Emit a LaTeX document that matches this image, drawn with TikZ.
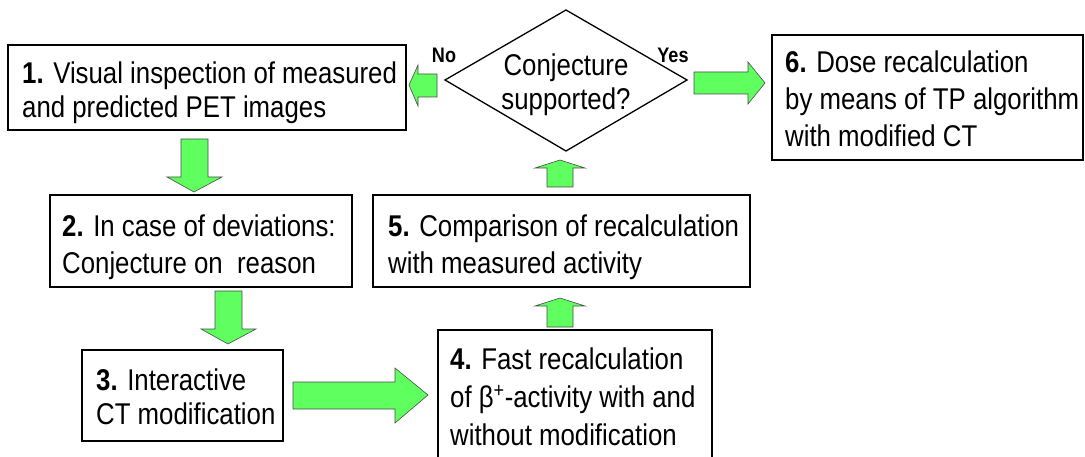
\documentclass[tikz,border=0pt]{standalone}
\usepackage{fontspec}
\setmainfont{Liberation Sans}[FakeStretch=0.86]
\definecolor{arrgreen}{RGB}{95,255,95}
\tikzset{
  box/.style={draw=black, line width=1.6pt, fill=white},
  txt/.style={anchor=base west, inner sep=0pt, font=\fontsize{30}{30}\selectfont},
  lbl/.style={anchor=base, inner sep=0pt, font=\fontsize{21}{21}\selectfont\bfseries},
  blockarrow/.style={draw=black!70, line width=0.6pt, fill=arrgreen, line join=miter},
}
\begin{document}
\begin{tikzpicture}[x=1pt,y=-1pt]
\useasboundingbox (0,0) rectangle (1085,457);
% boxes
\draw[box] (8,45) rectangle (406,130);
\draw[box] (50,195) rectangle (352,287);
\draw[box] (82,350) rectangle (283,441);
\draw[box] (438,330) rectangle (712,460);
\draw[box] (373,195) rectangle (750,287);
\draw[box] (772,35) rectangle (1083,160);
\draw[box, line width=1.3pt] (566,10) -- (687,80) -- (566,151) -- (445,80) -- cycle;
% texts
\node[txt] (t1a) at (22,84) {\textbf{1.} Visual inspection of measured};
\node[txt] (t1b) at (22,118) {and predicted PET images};
\node[txt] (t2a) at (62,237) {\textbf{2.} In case of deviations:};
\node[txt] (t2b) at (62,274) {Conjecture on\ \ reason};
\node[txt] (t3a) at (96,390) {\textbf{3.} Interactive};
\node[txt] (t3b) at (96,424) {CT modification};
\node[txt] (t4a) at (450,369) {\textbf{4.} Fast recalculation};
\node[txt] (t4b) at (450,407) {of β\textsuperscript{+}-activity with and};
\node[txt] (t4c) at (450,445) {without modification};
\node[txt] (t5a) at (388,237) {\textbf{5.} Comparison of recalculation};
\node[txt] (t5b) at (388,274) {with measured activity};
\node[txt] (t6a) at (785,73) {\textbf{6.} Dose recalculation};
\node[txt] (t6b) at (785,110) {by means of TP algorithm};
\node[txt] (t6c) at (785,147) {with modified CT};
\node[txt, anchor=base] (d1) at (566,76) {Conjecture};
\node[txt, anchor=base] (d2) at (566,110) {supported?};
\node[lbl] (no) at (444,63) {No};
\node[lbl] (yes) at (673,63) {Yes};
% block arrows
\draw[blockarrow] (181,139) -- (208,139) -- (208,177) -- (222,177) -- (194,192) -- (167,177) -- (181,177) -- cycle;
\draw[blockarrow] (215,291) -- (242,291) -- (242,329) -- (256,329) -- (228,344) -- (201,329) -- (215,329) -- cycle;
\draw[blockarrow] (293,382) -- (395,382) -- (395,368) -- (428,395) -- (395,423) -- (395,409) -- (293,409) -- cycle;
\draw[blockarrow] (547,327) -- (573,327) -- (573,306) -- (585,306) -- (560,298) -- (535,306) -- (547,306) -- cycle;
\draw[blockarrow] (547,187) -- (573,187) -- (573,168) -- (585,168) -- (560,160) -- (535,168) -- (547,168) -- cycle;
\draw[blockarrow] (437,74) -- (418,74) -- (418,65) -- (409,85) -- (418,106) -- (418,97) -- (437,97) -- cycle;
\draw[blockarrow] (694,72) -- (748,72) -- (748,62) -- (765,83) -- (748,104) -- (748,94) -- (694,94) -- cycle;
\end{tikzpicture}
\end{document}
